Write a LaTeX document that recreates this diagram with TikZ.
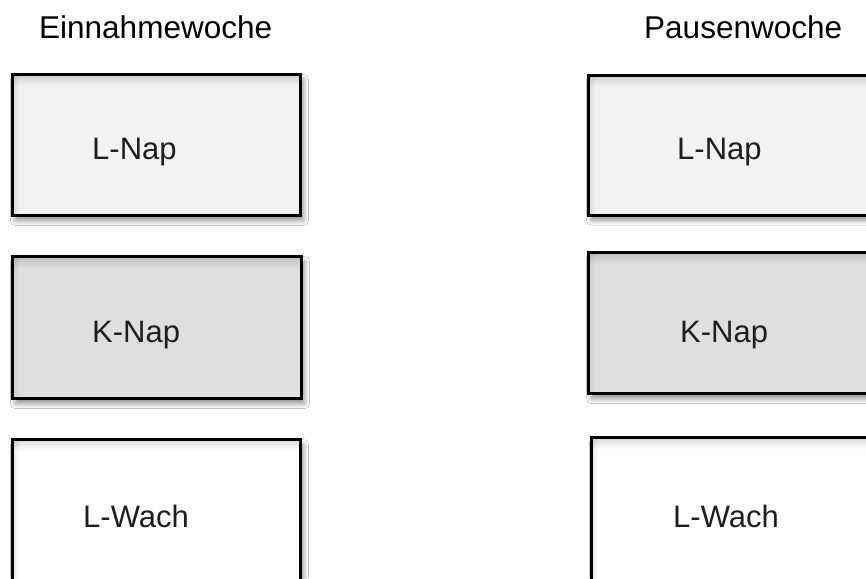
\documentclass[tikz,border=0pt]{standalone}
\usepackage{fontspec}
\setmainfont{Liberation Sans}
\usetikzlibrary{shadows.blur,fadings}
\definecolor{pillLight}{HTML}{F2F2F2}
\definecolor{pillDark}{HTML}{DFDFDF}
\definecolor{labelInk}{HTML}{1E1E1E}
\tikzset{
  phase/.style={draw=black, line width=3pt, outer sep=0pt, inner sep=0pt,
    blur shadow={shadow xshift=3pt, shadow yshift=-5pt, shadow blur radius=5pt,
      shadow blur steps=10, shadow opacity=45}},
  head/.style={anchor=base west, inner sep=0pt, font=\fontsize{31.5}{36}\selectfont, text=black},
  tag/.style={anchor=base west, inner sep=0pt, font=\fontsize{31}{36}\selectfont, text=labelInk},
  topglow/.style={fill=black, opacity=.13, path fading=south}
}
\begin{document}
\begin{tikzpicture}[x=1pt,y=-1pt]
  \useasboundingbox[fill=white] (0,0) rectangle (866,578);

  % column headings
  \node[head] (hIn)  at (39,38)  {Einnahmewoche};
  \node[head] (hOut) at (644,38) {Pausenwoche};

  % intake week column
  \node[phase, fill=pillLight, minimum width=288pt, minimum height=141pt] (a1) at (156.5,145) {};
  \node[phase, fill=pillDark,  minimum width=289pt, minimum height=142pt] (a2) at (157,327.5) {};
  \node[phase, fill=white,     minimum width=288pt, minimum height=146pt] (a3) at (156.5,512.5) {};

  % break week column
  \node[phase, fill=pillLight, minimum width=288pt, minimum height=140pt] (b1) at (732.5,145) {};
  \node[phase, fill=pillDark,  minimum width=288pt, minimum height=141pt] (b2) at (732.5,323) {};
  \node[phase, fill=white,     minimum width=288pt, minimum height=146pt] (b3) at (735.5,510.5) {};

  % soft inner shade under each top edge and along each left edge
  \foreach \b in {a1,a2,a3,b1,b2,b3}{
    \fill[topglow] ([xshift=1.5pt,yshift=-1.5pt]\b.north west) rectangle ([xshift=-1.5pt,yshift=-11pt]\b.north east);
    \fill[black, opacity=.08, path fading=east] ([xshift=1.5pt,yshift=-1.5pt]\b.north west) rectangle ([xshift=7pt,yshift=1.5pt]\b.south west);
  }

  % labels
  \node[tag] (ta1) at (92,159)  {L-Nap};
  \node[tag] (ta2) at (92,342)  {K-Nap};
  \node[tag] (ta3) at (83,527)  {L-Wach};
  \node[tag] (tb1) at (677,159) {L-Nap};
  \node[tag] (tb2) at (680,342) {K-Nap};
  \node[tag] (tb3) at (673,527) {L-Wach};
\end{tikzpicture}
\end{document}
